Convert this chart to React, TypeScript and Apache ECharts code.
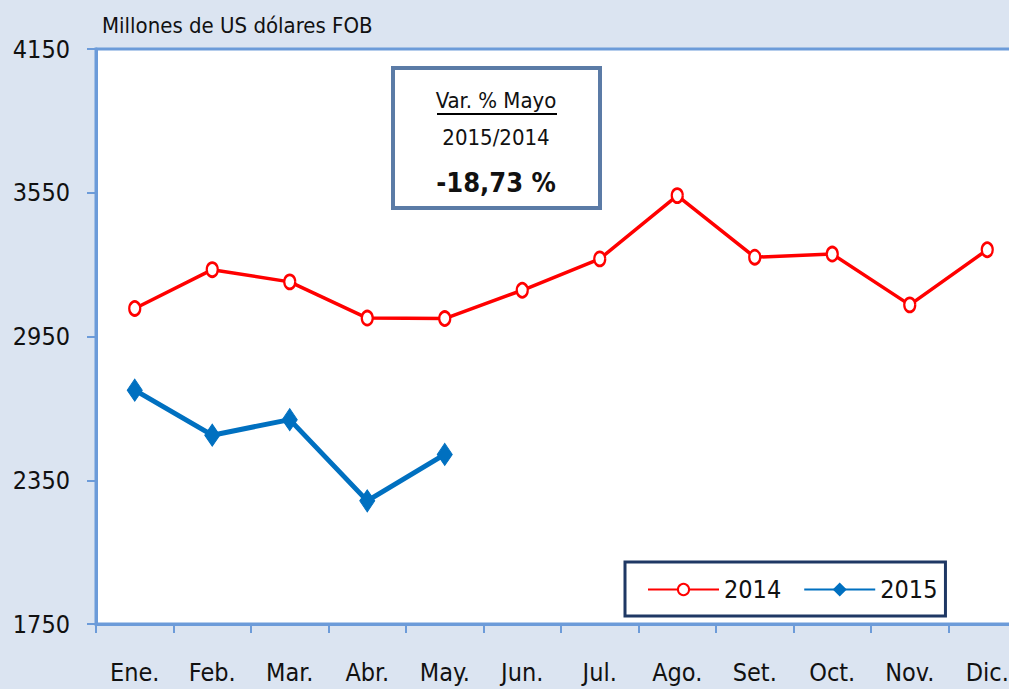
import React, { useEffect, useRef } from "react";
import * as echarts from "echarts";

const categories = ["Ene.", "Feb.", "Mar.", "Abr.", "May.", "Jun.", "Jul.", "Ago.", "Set.", "Oct.", "Nov.", "Dic."];
const values2014 = [3067, 3229, 3178, 3027, 3025, 3143, 3274, 3538, 3281, 3294, 3082, 3312];
const values2015 = [2726, 2538, 2603, 2264, 2458];
const yTicks = [1750, 2350, 2950, 3550, 4150];
const seriesNames = ["2014", "2015"];
const unitTitle = "Millones de US dólares FOB";
const noteLines = ["Var. % Mayo", "2015/2014", "-18,73 %"];

const FONT = "'Liberation Sans Narrow', 'Arial Narrow', 'DejaVu Sans Condensed', sans-serif";
const AXIS_BLUE = "#6c9bd9";

export default function App() {
  const ref = useRef<HTMLDivElement>(null);
  useEffect(() => {
    if (!ref.current) return;
    const chart = echarts.init(ref.current, undefined, { renderer: "svg" });
    chart.setOption({
      animation: false,
      backgroundColor: "#dbe4f1",
      grid: {
        left: 96,
        top: 49,
        width: 930,
        height: 575,
        show: true,
        outerBoundsMode: "none",
        containLabel: false,
        backgroundColor: "#ffffff",
        borderColor: AXIS_BLUE,
        borderWidth: 3,
      },
      legend: {
        left: 625,
        top: 562,
        orient: "horizontal",
        backgroundColor: "#ffffff",
        borderColor: "#1f3864",
        borderWidth: 3,
        borderRadius: 0,
        padding: [15, 8, 14, 22],
        itemWidth: 71,
        itemHeight: 14,
        itemGap: 22,
        textStyle: { fontFamily: FONT, fontSize: 25, color: "#111" },
        data: seriesNames,
      },
      xAxis: {
        type: "category",
        data: categories,
        boundaryGap: true,
        axisLine: { show: true, lineStyle: { color: AXIS_BLUE, width: 3 } },
        axisTick: { show: true, length: 9, lineStyle: { color: AXIS_BLUE, width: 2 } },
        axisLabel: { fontFamily: FONT, fontSize: 25, color: "#111", margin: 36, interval: 0 },
        splitLine: { show: false },
      },
      yAxis: {
        type: "value",
        min: 1750,
        max: 4150,
        axisLine: { show: true, lineStyle: { color: AXIS_BLUE, width: 3 } },
        axisTick: { show: true, length: 9, customValues: yTicks, lineStyle: { color: AXIS_BLUE, width: 2 } },
        axisLabel: {
          fontFamily: FONT,
          fontSize: 25,
          color: "#111",
          margin: 26,
          customValues: yTicks,
          formatter: (v: number) => String(v),
        },
        splitLine: { show: false },
      },
      series: [
        {
          name: seriesNames[0],
          type: "line",
          data: values2014,
          symbol: "circle",
          symbolSize: [11, 14],
          lineStyle: { color: "#ff0000", width: 3.5 },
          itemStyle: { color: "#ffffff", borderColor: "#ff0000", borderWidth: 2.5 },
          z: 3,
        },
        {
          name: seriesNames[1],
          type: "line",
          data: values2015,
          symbol: "diamond",
          symbolSize: [15, 22],
          lineStyle: { color: "#0070c0", width: 5 },
          itemStyle: { color: "#0070c0", borderColor: "#0070c0", borderWidth: 1 },
          z: 4,
        },
      ],
      graphic: [
        {
          type: "text",
          left: 102,
          top: 14,
          style: { text: unitTitle, fontFamily: FONT, fontSize: 22, fill: "#111" },
        },
        {
          type: "group",
          left: 391,
          top: 66,
          children: [
            {
              type: "rect",
              shape: { x: 0, y: 0, width: 207, height: 140 },
              style: { fill: "#ffffff", stroke: "#5b7ba6", lineWidth: 4 },
            },
            {
              type: "text",
              x: 103,
              y: 32,
              style: { text: noteLines[0], fontFamily: FONT, fontSize: 22, fill: "#111", align: "center", verticalAlign: "middle" },
            },
            {
              type: "line",
              shape: { x1: 44, y1: 46, x2: 164, y2: 46 },
              style: { stroke: "#000", lineWidth: 2 },
            },
            {
              type: "text",
              x: 103,
              y: 69,
              style: { text: noteLines[1], fontFamily: FONT, fontSize: 22, fill: "#111", align: "center", verticalAlign: "middle" },
            },
            {
              type: "text",
              x: 103,
              y: 114,
              style: { text: noteLines[2], fontFamily: FONT, fontSize: 27, fontWeight: "bold", fill: "#111", align: "center", verticalAlign: "middle" },
            },
          ],
        },
      ],
    });
    return () => chart.dispose();
  }, []);
  return <div ref={ref} style={{ position: "absolute", left: 0, top: 0, width: 1009, height: 689 }} />;
}
